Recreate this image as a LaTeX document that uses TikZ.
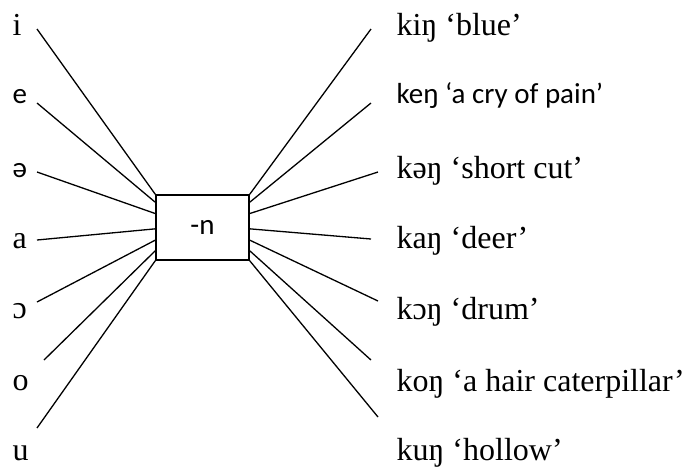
\documentclass[tikz,border=0pt]{standalone}
\usepackage{fontspec}
\setmainfont{Liberation Serif}
\newfontfamily\calibri{Carlito}
\usetikzlibrary{calc}

\tikzset{
  lab/.style={anchor=base west, inner sep=0pt},
  cal/.style={font=\calibri\fontsize{14.5}{17}\selectfont},
  suffix/.style={draw, line width=0.75pt, minimum width=46.5pt,
    minimum height=32.5pt, inner sep=0pt, cal}
}

\begin{document}
\begin{tikzpicture}[x=0.5pt, y=-0.5pt, line width=0.65pt,
    font=\fontsize{16}{19}\selectfont]
  \useasboundingbox (0,0) rectangle (682,468);

  \node[suffix] (n) at (202.5,227.5) {-n};

  % vowels
  \node[lab] (i) at (12,35) {i};
  \node[lab, cal] (e) at (12,103) {e};
  \node[lab, cal] (schwa) at (12,177) {ə};
  \node[lab] (a) at (12,248) {a};
  \node[lab] (oo) at (12,318) {ɔ};
  \node[lab] (o) at (12,390) {o};
  \node[lab] (u) at (12,460) {u};

  % words
  \node[lab] (kin) at (396,35) {kiŋ ‘blue’};
  \node[lab, cal] (ken) at (396,103) {keŋ ‘a cry of pain’};
  \node[lab] (kschwan) at (396,178) {kəŋ ‘short cut’};
  \node[lab] (kan) at (396,248) {kaŋ ‘deer’};
  \node[lab] (koon) at (396,319) {kɔŋ ‘drum’};
  \node[lab] (kon) at (396,391) {koŋ ‘a hair caterpillar’};
  \node[lab] (kun) at (396,460) {kuŋ ‘hollow’};

  % loose ends of the lines
  \coordinate (li) at (37,29);
  \coordinate (le) at (37,103);
  \coordinate (lschwa) at (37,172);
  \coordinate (la) at (37,240);
  \coordinate (loo) at (37,302);
  \coordinate (lo) at (44,360);
  \coordinate (lu) at (37,428);
  \coordinate (rin) at (371,29);
  \coordinate (ren) at (371,103);
  \coordinate (rschwan) at (378,172);
  \coordinate (ran) at (371,239);
  \coordinate (roon) at (378,301);
  \coordinate (ron) at (371,360);
  \coordinate (run) at (378,417);

  \draw (li) -- (n.north west)
        (le) -- ($(n.north west)!.12!(n.south west)$)
        (lschwa) -- ($(n.north west)!.29!(n.south west)$)
        (la) -- ($(n.north west)!.52!(n.south west)$)
        (loo) -- ($(n.north west)!.69!(n.south west)$)
        (lo) -- ($(n.north west)!.85!(n.south west)$)
        (lu) -- (n.south west);
  \draw (n.north east) -- (rin)
        ($(n.north east)!.12!(n.south east)$) -- (ren)
        ($(n.north east)!.29!(n.south east)$) -- (rschwan)
        ($(n.north east)!.52!(n.south east)$) -- (ran)
        ($(n.north east)!.69!(n.south east)$) -- (roon)
        ($(n.north east)!.85!(n.south east)$) -- (ron)
        (n.south east) -- (run);
\end{tikzpicture}
\end{document}
